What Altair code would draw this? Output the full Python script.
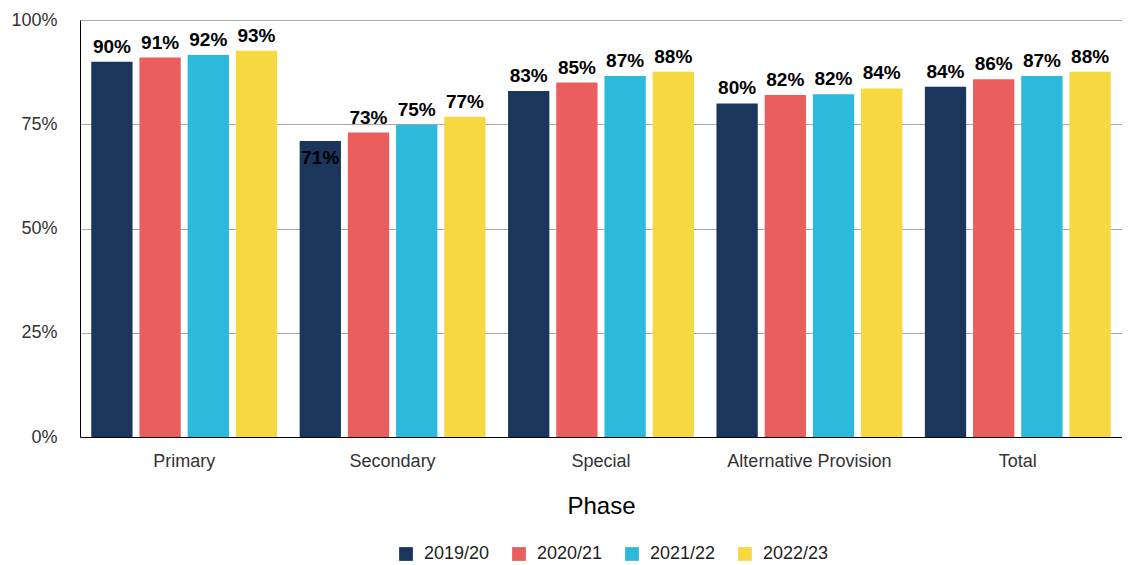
import altair as alt
import pandas as pd

phases = ["Primary", "Secondary", "Special", "Alternative Provision", "Total"]
years = ["2019/20", "2020/21", "2021/22", "2022/23"]
values = {
    "2019/20": [0.900, 0.710, 0.830, 0.800, 0.840],
    "2020/21": [0.910, 0.730, 0.850, 0.820, 0.858],
    "2021/22": [0.916, 0.749, 0.866, 0.822, 0.866],
    "2022/23": [0.926, 0.768, 0.876, 0.836, 0.876],
}
colors = ["#1b365d", "#eb5e5e", "#2cbadc", "#f6d840"]

rows = []
for y in years:
    for p, v in zip(phases, values[y]):
        rows.append({"Phase": p, "Year": y, "Value": v})
df = pd.DataFrame(rows)

FONT = "Liberation Sans"

x = alt.X("Phase:N", sort=phases,
          scale=alt.Scale(paddingInner=0.108, paddingOuter=0.054),
          axis=alt.Axis(title="Phase", labelAngle=0, ticks=False, domain=True,
                        domainColor="#000", labelFontSize=18, labelColor="#333",
                        labelPadding=15, titleFontSize=24, titleFontWeight="normal",
                        titleColor="#000", titlePadding=24, labelFont=FONT, titleFont=FONT))
xo = alt.XOffset("Year:N", sort=years, scale=alt.Scale(paddingInner=0.143))
yenc = alt.Y("Value:Q", scale=alt.Scale(domain=[0, 1], nice=False),
             axis=alt.Axis(title=None, format=".0%", values=[0, 0.25, 0.5, 0.75, 1.0],
                           ticks=False, domain=True, domainColor="#000",
                           labelFontSize=18, labelColor="#333", labelPadding=23,
                           gridColor="#aaa", gridWidth=1, labelFont=FONT))

color = alt.Color("Year:N", sort=years, scale=alt.Scale(domain=years, range=colors),
                  legend=alt.Legend(title=None, orient="none", direction="horizontal",
                                    legendX=317, legendY=525,
                                    symbolType="square", symbolSize=190, symbolStrokeWidth=0,
                                    labelFontSize=18, labelColor="#222", labelFont=FONT,
                                    columnPadding=20, labelOffset=9, labelLimit=200))

base = alt.Chart(df).encode(x=x, xOffset=xo)

bars = base.mark_bar().encode(y=yenc, color=color)

labels = base.transform_filter("datum.Value >= 0.72").mark_text(
    baseline="bottom", dy=-5, fontSize=19, fontWeight="bold", color="#000", font=FONT
).encode(y="Value:Q", text=alt.Text("Value:Q", format=".0%"))

labels_in = base.transform_filter("datum.Value < 0.72").mark_text(
    baseline="top", dy=8, fontSize=19, fontWeight="bold", color="#000", font=FONT
).encode(y="Value:Q", text=alt.Text("Value:Q", format=".0%"))

chart = alt.layer(bars, labels, labels_in).properties(
    width=1042, height=417,
    padding={"top": 3, "left": 2, "right": 0, "bottom": 0},
).configure_view(stroke=None)

chart.save("out.html", embed_options={"renderer": "svg", "actions": False})
